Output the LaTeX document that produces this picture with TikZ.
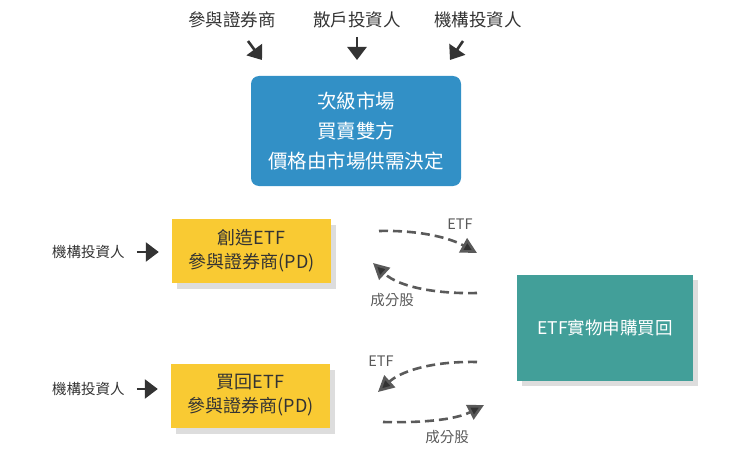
\documentclass[tikz,border=0pt]{standalone}
\usepackage{fontspec}
\setmainfont{Noto Sans CJK TC}
\usetikzlibrary{arrows.meta,shadows}

\definecolor{marketblue}{HTML}{3290C6}
\definecolor{pdyellow}{HTML}{F9CA33}
\definecolor{etfteal}{HTML}{429F99}
\definecolor{textgray}{HTML}{333333}
\definecolor{dashgray}{HTML}{5A5A5A}
\definecolor{shadowgray}{HTML}{DDDDDD}

\begin{document}
\begin{tikzpicture}[x=1pt,y=-1pt,
    toplabel/.style={text=textgray,font=\fontsize{17.5}{20}\selectfont,inner sep=0pt},
    sidelabel/.style={text=textgray,font=\fontsize{14.5}{16}\selectfont,inner sep=0pt},
    flowlabel/.style={text=dashgray,font=\fontsize{14.5}{16}\selectfont,inner sep=0pt},
    marketbox/.style={fill=marketblue,rounded corners=8pt,text=white,align=center,
        minimum width=210pt,minimum height=110pt,font=\fontsize{19.5}{30}\selectfont},
    pdbox/.style={fill=pdyellow,text=textgray,align=center,minimum width=159pt,
        minimum height=64pt,font=\fontsize{18}{24}\selectfont,
        drop shadow={shadow xshift=5pt,shadow yshift=-6pt,fill=shadowgray,opacity=1}},
    etfbox/.style={fill=etfteal,text=white,minimum width=176pt,minimum height=106pt,
        font=\fontsize{17.5}{20}\selectfont,
        drop shadow={shadow xshift=5pt,shadow yshift=-5pt,fill=shadowgray,opacity=1}},
    bigarrow/.style={draw=textgray,line width=2.6pt,-{Triangle[length=13pt,width=19pt]}},
    flowarrow/.style={draw=dashgray,line width=2.6pt,dash pattern=on 9pt off 5pt,
        -{Triangle[length=16pt,width=16pt,fill=textgray]}}]
        \useasboundingbox (0,0) rectangle (745,460);

        % draw top labels
        \node[toplabel] (dealer) at (232,20) {參與證券商};
        \node[toplabel] (retail) at (357,20) {散戶投資人};
        \node[toplabel] (inst) at (478,20) {機構投資人};

        % draw boxes
        \node[marketbox] (market) at (356,131) {次級市場\\買賣雙方\\價格由市場供需決定};
        \node[pdbox] (create) at (251.5,251) {創造ETF\\參與證券商(PD)};
        \node[pdbox] (redeem) at (250.5,395.5) {買回ETF\\參與證券商(PD)};
        \node[etfbox] (etf) at (605,328) {ETF實物申購買回};

        % draw side labels
        \node[sidelabel] (instA) at (88.5,252) {機構投資人};
        \node[sidelabel] (instB) at (88.5,389) {機構投資人};

        % draw arrows into the market
        \coordinate (dealerA) at (248,41);
        \coordinate (dealerB) at (262,60);
        \coordinate (retailA) at (357,37);
        \coordinate (retailB) at (357,60);
        \coordinate (instTopA) at (463,41);
        \coordinate (instTopB) at (450,60);
        \draw[bigarrow] (dealerA) -- (dealerB);
        \draw[bigarrow] (retailA) -- (retailB);
        \draw[bigarrow] (instTopA) -- (instTopB);

        % draw arrows into the PD boxes
        \draw[bigarrow,shorten <=12pt,shorten >=13pt] (instA.east) -- (instA.east -| create.west);
        \draw[bigarrow,shorten <=12pt,shorten >=13pt] (instB.east) -- (instB.east -| redeem.west);

        % draw creation flows
        \coordinate (etfOutA) at (379,231);
        \coordinate (etfInA) at (477,253);
        \coordinate (stockOutA) at (477,293);
        \coordinate (stockInA) at (373,263);
        \draw[flowarrow] (etfOutA) .. controls (420,230) and (450,238) .. (etfInA);
        \draw[flowarrow] (stockOutA) .. controls (440,294) and (400,288) .. (stockInA);
        \node[flowlabel] (etfLabelA) at (460,224) {ETF};
        \node[flowlabel] (stockLabelA) at (392,300) {成分股};

        % draw redemption flows
        \coordinate (etfOutB) at (477,362);
        \coordinate (etfInB) at (378,392);
        \coordinate (stockOutB) at (383,422);
        \coordinate (stockInB) at (484,405);
        \draw[flowarrow] (etfOutB) .. controls (430,361) and (400,372) .. (etfInB);
        \draw[flowarrow] (stockOutB) .. controls (420,423) and (455,420) .. (stockInB);
        \node[flowlabel] (etfLabelB) at (381,361) {ETF};
        \node[flowlabel] (stockLabelB) at (447,437) {成分股};
\end{tikzpicture}
\end{document}
